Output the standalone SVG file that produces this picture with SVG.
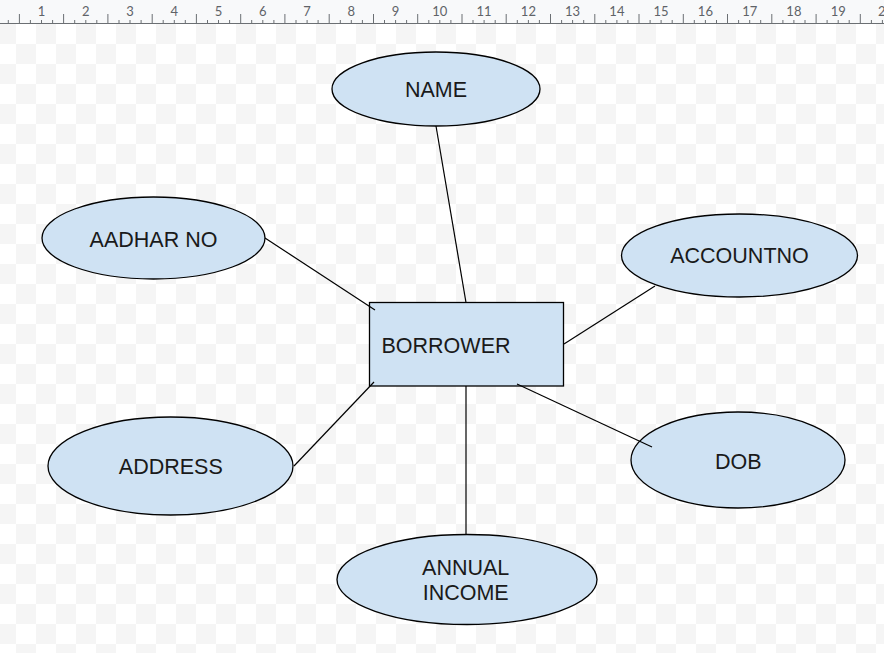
<svg xmlns="http://www.w3.org/2000/svg" width="884" height="653" viewBox="0 0 884 653">
<style>
.ent{fill:#cfe2f3;stroke:#000;stroke-width:1.3}
.lbl{font-family:"Liberation Sans",Arial,sans-serif;font-size:21.5px;fill:#1a1a1a;text-anchor:middle}
.conn line{stroke:#000;stroke-width:1.2}
.num{font-family:Lato,"Liberation Sans",sans-serif;font-size:13px;fill:#5f6368;text-anchor:middle}
</style>
<defs>
<pattern id="chk" x="16" y="4" width="40" height="40" patternUnits="userSpaceOnUse">
<rect width="40" height="40" fill="#ffffff"/>
<rect width="20" height="20" fill="#f5f5f5"/>
<rect x="20" y="20" width="20" height="20" fill="#f5f5f5"/>
</pattern>
</defs>
<rect width="884" height="653" fill="url(#chk)"/>
<g id="ruler">
<rect width="884" height="23.5" fill="#f8f9fa"/>
<path d="M8.3 20V23.5M30.4 20V23.5M41.5 20V23.5M52.6 20V23.5M74.7 20V23.5M85.8 20V23.5M96.8 20V23.5M119 20V23.5M130 20V23.5M141.1 20V23.5M163.2 20V23.5M174.3 20V23.5M185.3 20V23.5M207.5 20V23.5M218.5 20V23.5M229.6 20V23.5M251.7 20V23.5M262.8 20V23.5M273.9 20V23.5M296 20V23.5M307.1 20V23.5M318.1 20V23.5M340.3 20V23.5M351.3 20V23.5M362.4 20V23.5M384.5 20V23.5M395.6 20V23.5M406.6 20V23.5M428.8 20V23.5M439.8 20V23.5M450.9 20V23.5M473 20V23.5M484.1 20V23.5M495.2 20V23.5M517.3 20V23.5M528.4 20V23.5M539.4 20V23.5M561.6 20V23.5M572.6 20V23.5M583.7 20V23.5M605.8 20V23.5M616.9 20V23.5M627.9 20V23.5M650.1 20V23.5M661.1 20V23.5M672.2 20V23.5M694.3 20V23.5M705.4 20V23.5M716.5 20V23.5M738.6 20V23.5M749.7 20V23.5M760.7 20V23.5M782.9 20V23.5M793.9 20V23.5M805 20V23.5M827.1 20V23.5M838.2 20V23.5M849.2 20V23.5M871.4 20V23.5M882.4 20V23.5M19.4 14V23.5M63.6 14V23.5M107.9 14V23.5M152.2 14V23.5M196.4 14V23.5M240.7 14V23.5M284.9 14V23.5M329.2 14V23.5M373.5 14V23.5M417.7 14V23.5M462 14V23.5M506.2 14V23.5M550.5 14V23.5M594.8 14V23.5M639 14V23.5M683.3 14V23.5M727.5 14V23.5M771.8 14V23.5M816.1 14V23.5M860.3 14V23.5" stroke="#6b6f73" stroke-width="1"/>
<line x1="0" y1="23.5" x2="884" y2="23.5" stroke="#6b6f73" stroke-width="1"/>
<text class="num" x="41.5" y="16">1</text>
<text class="num" x="85.8" y="16">2</text>
<text class="num" x="130" y="16">3</text>
<text class="num" x="174.3" y="16">4</text>
<text class="num" x="218.5" y="16">5</text>
<text class="num" x="262.8" y="16">6</text>
<text class="num" x="307.1" y="16">7</text>
<text class="num" x="351.3" y="16">8</text>
<text class="num" x="395.6" y="16">9</text>
<text class="num" x="439.8" y="16">10</text>
<text class="num" x="484.1" y="16">11</text>
<text class="num" x="528.4" y="16">12</text>
<text class="num" x="572.6" y="16">13</text>
<text class="num" x="616.9" y="16">14</text>
<text class="num" x="661.1" y="16">15</text>
<text class="num" x="705.4" y="16">16</text>
<text class="num" x="749.7" y="16">17</text>
<text class="num" x="793.9" y="16">18</text>
<text class="num" x="838.2" y="16">19</text>
<text class="num" x="878" y="16" style="text-anchor:start">2</text>
</g>
<g id="borrower">
<rect class="ent" x="369.5" y="302.5" width="194" height="83.5"/>
<text class="lbl" x="381.5" y="352.7" style="text-anchor:start">BORROWER</text>
</g>
<g id="name">
<ellipse class="ent" cx="436" cy="89" rx="104" ry="37"/>
<text class="lbl" x="436" y="96.7">NAME</text>
</g>
<g id="aadhar">
<ellipse class="ent" cx="153.5" cy="238" rx="111.5" ry="41"/>
<text class="lbl" x="153.5" y="246.7">AADHAR NO</text>
</g>
<g id="accountno">
<ellipse class="ent" cx="739.5" cy="255.5" rx="118" ry="41.5"/>
<text class="lbl" x="739.5" y="263.3">ACCOUNTNO</text>
</g>
<g id="address">
<ellipse class="ent" cx="170.5" cy="466" rx="122.5" ry="49"/>
<text class="lbl" x="170.8" y="474.3">ADDRESS</text>
</g>
<g id="dob">
<ellipse class="ent" cx="738" cy="460" rx="107" ry="48"/>
<text class="lbl" x="738.2" y="469">DOB</text>
</g>
<g id="annual-income">
<ellipse class="ent" cx="467" cy="579.5" rx="130" ry="45"/>
<text class="lbl" x="465.7" y="575">ANNUAL</text>
<text class="lbl" x="465.7" y="600">INCOME</text>
</g>
<g id="connectors" class="conn">
<line x1="436" y1="126" x2="466" y2="302.5"/>
<line x1="265" y1="238" x2="375" y2="310"/>
<line x1="655" y1="286" x2="564" y2="344"/>
<line x1="517" y1="384" x2="652" y2="447"/>
<line x1="374" y1="382" x2="294" y2="466"/>
<line x1="466" y1="386" x2="466" y2="534.5"/>
</g>
</svg>
